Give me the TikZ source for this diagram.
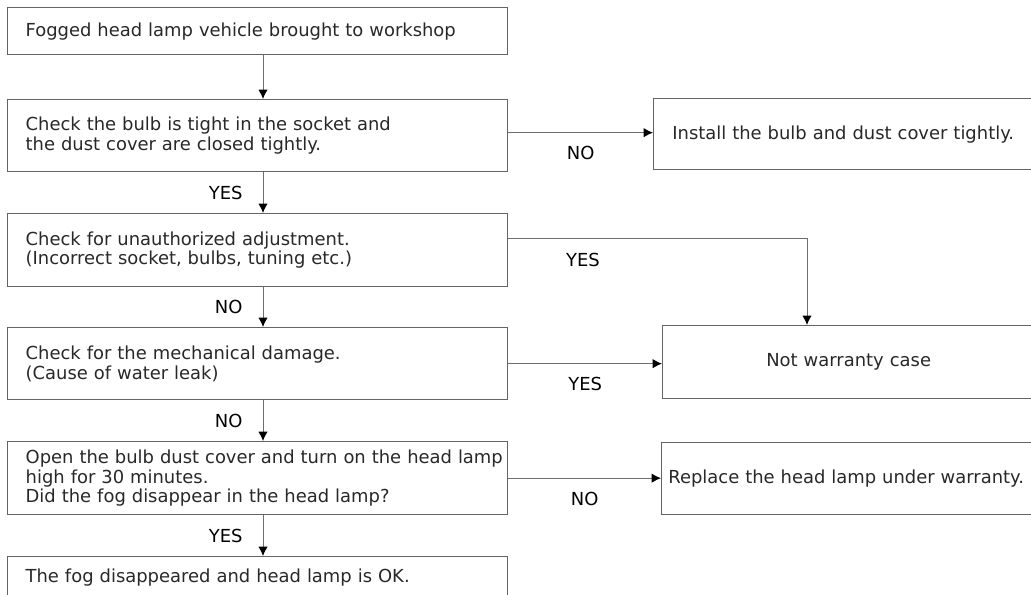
\documentclass[tikz,border=0pt]{standalone}
\usepackage{fontspec}
\setmainfont{DejaVu Sans}
\usetikzlibrary{arrows.meta}

\definecolor{boxgray}{RGB}{100,100,100}
\definecolor{linegray}{RGB}{110,110,110}
\definecolor{textgray}{RGB}{40,40,40}

\newcommand{\chartfont}{\fontsize{13.45}{14.6}\selectfont}

\tikzset{
	box/.style = {draw = boxgray, line width = 1pt, rectangle, anchor = north west, inner xsep = 13.5pt, inner ysep = 2pt, align = left, text = textgray},
	leftbox/.style = {box, minimum width = 375pt, text width = 348pt},
	answer/.style = {text = black, inner sep = 0pt},
	flow/.style = {->, draw = linegray, line width = 0.75pt}
}

\begin{document}
\begin{tikzpicture}[> = {Latex[length = 7pt, width = 7pt, color = black]}, x = 0.75pt, y = -0.75pt, font = \chartfont]

	% Page
	
	\useasboundingbox (0, 0) rectangle (1031, 595);
	\clip (0, 0) rectangle (1031, 595);

	% Left column
	
	\node [leftbox, minimum height = 35.25pt] (fogged) at (7, 7) {Fogged head lamp vehicle brought to workshop};
	\node [leftbox, minimum height = 54pt] (bulb) at (7, 99) {Check the bulb is tight in the socket and\\the dust cover are closed tightly.};
	\node [leftbox, minimum height = 54.75pt] (adjust) at (7, 213) {Check for unauthorized adjustment.\\(Incorrect socket, bulbs, tuning etc.)};
	\node [leftbox, minimum height = 54pt] (damage) at (7, 327) {Check for the mechanical damage.\\(Cause of water leak)};
	\node [leftbox, minimum height = 54.75pt] (test) at (7, 441) {\mbox{Open the bulb dust cover and turn on the head lamp}\\high for 30 minutes.\\Did the fog disappear in the head lamp?};
	\node [leftbox, minimum height = 32pt] (ok) at (7, 556) {The fog disappeared and head lamp is OK.};

	% Right column
	
	\node [box, inner xsep = 14pt, minimum width = 335.25pt, text width = 307.25pt, minimum height = 53.25pt] (install) at (653, 98) {Install the bulb and dust cover tightly.};
	\node [box, align = center, minimum width = 279pt, text width = 251pt, minimum height = 54.75pt] (notwarranty) at (662, 325) {Not warranty case};
	\node [box, inner xsep = 5pt, minimum width = 329.25pt, text width = 319.25pt, minimum height = 54pt] (replace) at (661, 442) {Replace the head lamp under warranty.};

	% Connectors
	
	\coordinate (col) at (263, 0);
	\coordinate (corner) at (807, 239);
	
	\draw [flow] (fogged.south -| col) -- (bulb.north -| col);
	\draw [flow] (bulb.south -| col) -- node [answer, midway, left = 15pt] {YES} (adjust.north -| col);
	\draw [flow] (adjust.south -| col) -- node [answer, midway, left = 15pt] {NO} (damage.north -| col);
	\draw [flow] (damage.south -| col) -- node [answer, midway, left = 15pt] {NO} (test.north -| col);
	\draw [flow] (test.south -| col) -- node [answer, midway, left = 15pt] {YES} (ok.north -| col);
	
	\draw [flow] ([yshift = 2.25pt] bulb.east) -- node [answer, midway, below = 10pt] {NO} ([yshift = 2.25pt] bulb.east -| install.west);
	\draw [flow] (adjust.east |- corner) -- node [answer, pos = 0.25, below = 10pt] {YES} (corner) -- (corner |- notwarranty.north);
	\draw [flow] (damage.east) -- node [answer, midway, below = 10pt] {YES} (damage.east -| notwarranty.west);
	\draw [flow] (test.east) -- node [answer, midway, below = 10pt] {NO} (test.east -| replace.west);

\end{tikzpicture}
\end{document}
